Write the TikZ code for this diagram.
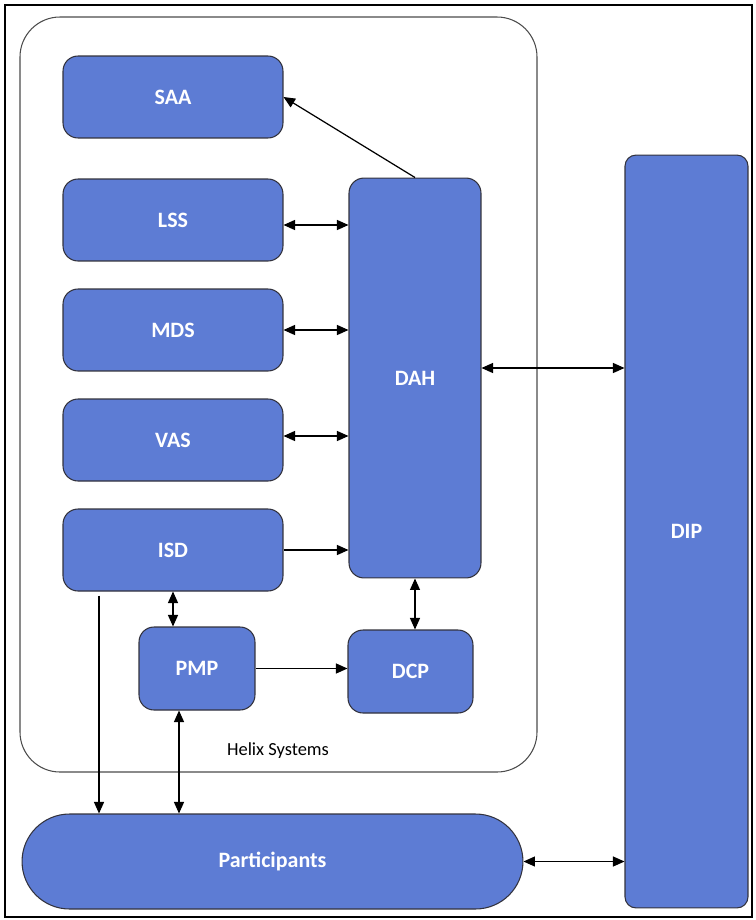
\documentclass[tikz,border=0pt]{standalone}
\usepackage{fontspec}
\setmainfont{Carlito}
\usetikzlibrary{arrows.meta}
\definecolor{boxblue}{RGB}{93,124,212}
\definecolor{boxline}{RGB}{50,50,60}
\begin{document}
\begin{tikzpicture}[x=0.02cm, y=-0.02cm,
  block/.style={draw=boxline, line width=0.6pt, fill=boxblue, rounded corners=0.3cm,
    text=white, font=\fontsize{12.5}{15}\selectfont\bfseries, inner sep=0pt},
  arr/.style={-{Triangle[length=2.3mm,width=2mm]}, line width=0.7pt},
  dbl/.style={{Triangle[length=2.3mm,width=2mm]}-{Triangle[length=2.3mm,width=2mm]}, line width=0.7pt}]
\useasboundingbox (0,0) rectangle (755,920);

% Frame and the Helix Systems group
\draw[line width=1.1pt] (5,5) rectangle (752,917);
\draw[draw=black!70, line width=0.6pt, rounded corners=0.8cm] (20,17) rectangle (537,772);
\node[font=\fontsize{10.5}{12}\selectfont] (helix) at (278,751) {Helix Systems};

% Blocks on the left
\node[block, minimum width=4.4cm, minimum height=1.64cm] (SAA) at (173,97) {SAA};
\node[block, minimum width=4.4cm, minimum height=1.64cm] (LSS) at (173,220) {LSS};
\node[block, minimum width=4.4cm, minimum height=1.64cm] (MDS) at (173,330) {MDS};
\node[block, minimum width=4.4cm, minimum height=1.64cm] (VAS) at (173,440) {VAS};
\node[block, minimum width=4.4cm, minimum height=1.64cm] (ISD) at (173,550) {ISD};

% Hub and lower blocks
\node[block, minimum width=2.64cm, minimum height=8cm] (DAH) at (415,378) {DAH};
\node[block, minimum width=2.32cm, minimum height=1.66cm] (PMP) at (197,668.5) {PMP};
\node[block, minimum width=2.5cm, minimum height=1.66cm] (DCP) at (410.5,671.5) {DCP};

% Outside the group
\node[block, rounded corners=0.22cm, minimum width=2.46cm, minimum height=15.06cm] (DIP) at (686.5,531.5) {DIP};
\node[block, rounded corners=0.95cm, minimum width=10.02cm, minimum height=1.9cm] (Participants) at (272.5,861.5) {Participants};

% Connectors
\draw[arr] (DAH.north) -- (SAA.east);
\draw[dbl] ([yshift=-0.1cm]LSS.east) -- ([yshift=-0.1cm]LSS.east -| DAH.west);
\draw[dbl] (MDS.east) -- (MDS.east -| DAH.west);
\draw[dbl] ([yshift=0.08cm]VAS.east) -- ([yshift=0.08cm]VAS.east -| DAH.west);
\draw[arr] (ISD.east) -- (ISD.east -| DAH.west);
\draw[dbl] ([yshift=0.2cm]DAH.east) -- ([yshift=0.2cm]DAH.east -| DIP.west);
\draw[dbl] (ISD.south) -- (ISD.south |- PMP.north);
\draw[dbl] (DAH.south) -- (DAH.south |- DCP.north);
\draw[arr] (PMP.east) -- (PMP.east -| DCP.west);
\draw[arr] ([xshift=-1.48cm,yshift=-0.08cm]ISD.south) coordinate (isdtap) -- (isdtap |- Participants.north);
\draw[dbl] ([xshift=-0.36cm]PMP.south) coordinate (pmptap) -- (pmptap |- Participants.north);
\draw[dbl] (Participants.east) -- (Participants.east -| DIP.west);
\end{tikzpicture}
\end{document}
